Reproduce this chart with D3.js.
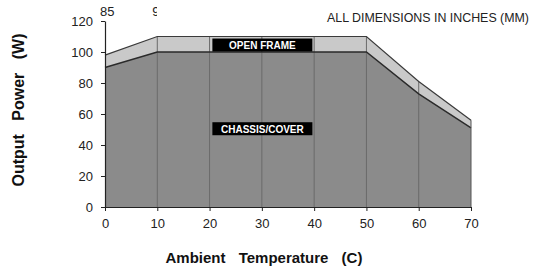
<!DOCTYPE html>
<html>
<head>
<meta charset="utf-8">
<script src="https://cdn.jsdelivr.net/npm/d3@7"></script>
<style>
  body { margin: 0; background: #fff; }
  text { font-family: "Liberation Sans", Arial, sans-serif; }
</style>
</head>
<body>
<div id="vis"></div>
<script>
// derating curve
var temps = [0, 10, 20, 30, 40, 50, 60, 70];
var openFrame = [98, 110, 110, 110, 110, 110, 81, 56];
var chassis = [90, 100, 100, 100, 100, 100, 73, 51];
var yTicks = [0, 20, 40, 60, 80, 100, 120];
var xTicks = [0, 10, 20, 30, 40, 50, 60, 70];
var gridTemps = [10, 20, 30, 40, 50, 60];
var topLabels = [{ t: 0, label: '85' }, { t: 10, label: '9' }];

var width = 542, height = 269;

var svg = d3.select('#vis').append('svg')
  .attr('width', width)
  .attr('height', height);

var x = d3.scaleLinear().domain([0, 70]).range([105, 471]);
var y = d3.scaleLinear().domain([0, 120]).range([207, 21]);

var pts = temps.map(function (t, i) { return { t: t, o: openFrame[i], c: chassis[i] }; });

// open frame band
svg.append('path')
  .datum(pts)
  .attr('fill', '#c9c9c9')
  .attr('d', d3.area().x(function (d) { return x(d.t); }).y0(y(0)).y1(function (d) { return y(d.o); }));

// chassis area
svg.append('path')
  .datum(pts)
  .attr('fill', '#8b8b8b')
  .attr('d', d3.area().x(function (d) { return x(d.t); }).y0(y(0)).y1(function (d) { return y(d.c); }));

// vertical grid lines up to the open frame top
svg.append('g').selectAll('line')
  .data(gridTemps)
  .enter()
  .append('line')
  .attr('x1', function (d) { return x(d); })
  .attr('x2', function (d) { return x(d); })
  .attr('y1', y(0))
  .attr('y2', function (d) { return y(openFrame[temps.indexOf(d)]); })
  .attr('stroke', '#6a6a6a')
  .attr('stroke-width', 1);

// outlines
svg.append('path')
  .datum(pts)
  .attr('fill', 'none')
  .attr('stroke', '#3a3a3a')
  .attr('stroke-width', 1.2)
  .attr('d', d3.line().x(function (d) { return x(d.t); }).y(function (d) { return y(d.o); }));

svg.append('path')
  .datum(pts)
  .attr('fill', 'none')
  .attr('stroke', '#2a2a2a')
  .attr('stroke-width', 1.4)
  .attr('d', d3.line().x(function (d) { return x(d.t); }).y(function (d) { return y(d.c); }));

// right edge
svg.append('line')
  .attr('x1', x(70)).attr('x2', x(70))
  .attr('y1', y(0)).attr('y2', y(openFrame[openFrame.length - 1]))
  .attr('stroke', '#555').attr('stroke-width', 1);

// axes
var yAxis = svg.append('g')
  .attr('transform', 'translate(' + x(0) + ',0)')
  .call(d3.axisLeft(y).tickValues(yTicks).tickSize(4).tickSizeOuter(0));

var xAxis = svg.append('g')
  .attr('transform', 'translate(0,' + y(0) + ')')
  .call(d3.axisBottom(x).tickValues(xTicks).tickSize(4).tickSizeOuter(0));

[yAxis, xAxis].forEach(function (a) {
  a.select('.domain').attr('stroke', '#222').attr('stroke-width', 1.2);
  a.selectAll('.tick line').attr('stroke', '#222');
  a.selectAll('.tick text')
    .attr('fill', '#222')
    .style('font-size', '13px')
    .style('font-family', '"Liberation Sans", Arial, sans-serif');
});
yAxis.selectAll('.tick text').attr('x', -12);
xAxis.selectAll('.tick text').attr('y', 12);

// labels inside
function tag(label, t, v) {
  var cx = x(t), cy = y(v);
  svg.append('rect')
    .attr('x', cx - 50).attr('y', cy - 6.5)
    .attr('width', 100).attr('height', 13)
    .attr('fill', '#000');
  svg.append('text')
    .attr('x', cx).attr('y', cy + 4)
    .attr('text-anchor', 'middle')
    .attr('fill', '#fff')
    .style('font-size', '10px')
    .style('font-weight', 'bold')
    .text(label);
}
tag('OPEN FRAME', 30.1, 104.5);
tag('CHASSIS/COVER', 30.1, 50.5);

// clipped labels above the plot
svg.append('clipPath').attr('id', 'topclip')
  .append('rect').attr('x', 0).attr('y', 0).attr('width', 157).attr('height', 20);

svg.append('g').attr('clip-path', 'url(#topclip)')
  .selectAll('text')
  .data(topLabels)
  .enter()
  .append('text')
  .attr('x', function (d) { return x(d.t) - 5; })
  .attr('y', 16)
  .attr('fill', '#222')
  .style('font-size', '13px')
  .text(function (d) { return d.label; });

svg.append('text')
  .attr('x', 529).attr('y', 22)
  .attr('text-anchor', 'end')
  .attr('fill', '#222')
  .style('font-size', '12.4px')
  .text('ALL DIMENSIONS IN INCHES (MM)');

svg.append('text')
  .attr('transform', 'translate(24,110) rotate(-90)')
  .attr('text-anchor', 'middle')
  .attr('fill', '#111')
  .style('font-size', '16px')
  .style('font-weight', 'bold')
  .style('word-spacing', '9px')
  .text('Output Power (W)');

svg.append('text')
  .attr('x', 264).attr('y', 263)
  .attr('text-anchor', 'middle')
  .attr('fill', '#111')
  .style('font-size', '15px')
  .style('font-weight', 'bold')
  .style('word-spacing', '9px')
  .text('Ambient Temperature (C)');
</script>
</body>
</html>
